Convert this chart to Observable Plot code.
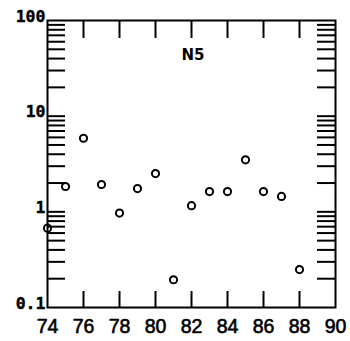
<!DOCTYPE html>
<html>
<head>
<meta charset="utf-8">
<script src="https://cdn.jsdelivr.net/npm/d3@7"></script>
<script src="https://cdn.jsdelivr.net/npm/@observablehq/plot@0.6"></script>
<style>
  html, body { margin: 0; padding: 0; background: #fff; }
  g[aria-label="ylabels"] text { letter-spacing: 2px; }
</style>
</head>
<body>
<div id="chart"></div>
<script>
// Data
const years = [74, 75, 76, 77, 78, 79, 80, 81, 82, 83, 84, 85, 86, 87, 88];
const values = [0.674, 1.84, 5.88, 1.93, 0.97, 1.75, 2.51, 0.195, 1.16, 1.63, 1.63, 3.5, 1.63, 1.45, 0.249];

// Axis ticks and labels
const xTickValues = [76, 78, 80, 82, 84, 86, 88];
const xLabelValues = [74, 76, 78, 80, 82, 84, 86, 88, 90];
const yLabelValues = [0.1, 1, 10, 100];
const yLabelTexts = ["0.1", "1", "10", "100"];
const yMinorTicks = [0.2, 0.3, 0.4, 0.5, 0.6, 0.7, 0.8, 0.9,
                     1, 2, 3, 4, 5, 6, 7, 8, 9,
                     10, 20, 30, 40, 50, 60, 70, 80, 90];
const panelLabel = "N5";

const points = years.map((x, i) => ({x, y: values[i]}));

const W = 350, H = 341;
const mL = 47, mR = 15, mT = 20, mB = 34;
const pw = W - mL - mR, ph = H - mT - mB;
const tickLen = 18;

const chart = Plot.plot({
  width: W,
  height: H,
  marginLeft: mL,
  marginRight: mR,
  marginTop: mT,
  marginBottom: mB,
  style: {background: "#fff", color: "#000"},
  x: {domain: [74, 90], axis: null},
  y: {type: "log", domain: [0.1, 100], axis: null},
  marks: [
    // inward ticks: left & right (log minor ticks)
    Plot.tickY(yMinorTicks, {y: d => d, insetRight: pw - tickLen, stroke: "#000", strokeWidth: 2}),
    Plot.tickY(yMinorTicks, {y: d => d, insetLeft: pw - tickLen, stroke: "#000", strokeWidth: 2}),
    // inward ticks: top & bottom
    Plot.tickX(xTickValues, {x: d => d, insetBottom: ph - tickLen, stroke: "#000", strokeWidth: 2}),
    Plot.tickX(xTickValues, {x: d => d, insetTop: ph - 16, stroke: "#000", strokeWidth: 2}),
    Plot.frame({stroke: "#000", strokeWidth: 2}),
    // y labels
    Plot.text(yLabelValues, {
      x: 74, y: d => d, text: (d, i) => yLabelTexts[i],
      textAnchor: "end", lineAnchor: "bottom", dx: -2, dy: 1,
      fontFamily: "DejaVu Sans Mono", fontWeight: "bold", fontSize: 16.5,
      fill: "#000", stroke: "#000", strokeWidth: 0.4, ariaLabel: "ylabels"
    }),
    // x labels
    Plot.text(xLabelValues, {
      x: d => d, y: 0.1, text: d => String(d),
      textAnchor: "middle", lineAnchor: "bottom", dy: 25,
      fontFamily: "Liberation Sans", fontSize: 19.5,
      fill: "#000", stroke: "#000", strokeWidth: 0.6, ariaLabel: "xlabels"
    }),
    // panel label
    Plot.text([panelLabel], {
      frameAnchor: "top", text: d => d, lineAnchor: "bottom", dy: 39, dx: 1.5,
      fontFamily: "DejaVu Sans", fontWeight: "bold", fontSize: 15, fill: "#000"
    }),
    // data points
    Plot.dot(points, {x: "x", y: "y", r: 3.6, stroke: "#000", strokeWidth: 2, fill: "none"})
  ]
});

document.getElementById("chart").appendChild(chart);
</script>
</body>
</html>
